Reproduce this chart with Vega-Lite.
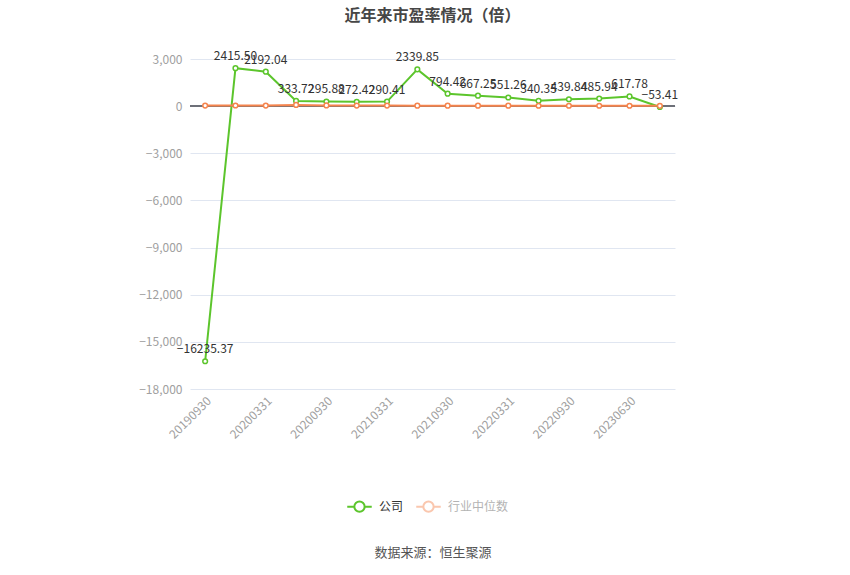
{
  "$schema": "https://vega.github.io/schema/vega-lite/v6.json",
  "width": 485,
  "height": 330,
  "autosize": {"type": "none"},
  "padding": {"left": 190, "top": 59, "right": 175, "bottom": 186},
  "background": "white",
  "title": {
    "text": "近年来市盈率情况（倍）",
    "fontSize": 16,
    "fontWeight": "bold",
    "color": "#464646",
    "font": "Noto Sans CJK SC",
    "anchor": "middle",
    "offset": 26
  },
  "config": {
    "font": "Noto Sans CJK SC",
    "view": {"stroke": null}
  },
  "data": {
    "values": [
      {"date": "20190930", "series": "公司", "pe": -16235.37},
      {"date": "20191231", "series": "公司", "pe": 2415.50},
      {"date": "20200331", "series": "公司", "pe": 2192.04},
      {"date": "20200630", "series": "公司", "pe": 333.72},
      {"date": "20200930", "series": "公司", "pe": 295.88},
      {"date": "20201231", "series": "公司", "pe": 272.42},
      {"date": "20210331", "series": "公司", "pe": 290.41},
      {"date": "20210630", "series": "公司", "pe": 2339.85},
      {"date": "20210930", "series": "公司", "pe": 794.42},
      {"date": "20211231", "series": "公司", "pe": 667.25},
      {"date": "20220331", "series": "公司", "pe": 551.26},
      {"date": "20220630", "series": "公司", "pe": 340.35},
      {"date": "20220930", "series": "公司", "pe": 439.84},
      {"date": "20221231", "series": "公司", "pe": 485.94},
      {"date": "20230630", "series": "公司", "pe": 617.78},
      {"date": "20230930", "series": "公司", "pe": -53.41},
      {"date": "20190930", "series": "行业中位数", "pe": 35},
      {"date": "20191231", "series": "行业中位数", "pe": 40},
      {"date": "20200331", "series": "行业中位数", "pe": 38},
      {"date": "20200630", "series": "行业中位数", "pe": 75},
      {"date": "20200930", "series": "行业中位数", "pe": 45},
      {"date": "20201231", "series": "行业中位数", "pe": 38},
      {"date": "20210331", "series": "行业中位数", "pe": 35},
      {"date": "20210630", "series": "行业中位数", "pe": 32},
      {"date": "20210930", "series": "行业中位数", "pe": 30},
      {"date": "20211231", "series": "行业中位数", "pe": 32},
      {"date": "20220331", "series": "行业中位数", "pe": 28},
      {"date": "20220630", "series": "行业中位数", "pe": 26},
      {"date": "20220930", "series": "行业中位数", "pe": 25},
      {"date": "20221231", "series": "行业中位数", "pe": 24},
      {"date": "20230630", "series": "行业中位数", "pe": 26},
      {"date": "20230930", "series": "行业中位数", "pe": 22}
    ]
  },
  "encoding": {
    "x": {
      "field": "date",
      "type": "ordinal",
      "sort": null,
      "scale": {"type": "point", "padding": 0.5},
      "axis": {
        "title": "数据来源：恒生聚源",
        "titleFontSize": 13,
        "titleFontWeight": "normal",
        "titleColor": "#555",
        "titlePadding": 106,
        "values": ["20190930", "20200331", "20200930", "20210331", "20210930", "20220331", "20220930", "20230630"],
        "labelAngle": -45,
        "labelAlign": "right",
        "labelBaseline": "top",
        "labelColor": "#a0a0a0",
        "labelFontSize": 12,
        "labelPadding": 6,
        "domain": false,
        "ticks": false,
        "grid": false
      }
    },
    "y": {
      "field": "pe",
      "type": "quantitative",
      "scale": {"domain": [-18000, 3000], "nice": false},
      "axis": {
        "title": null,
        "values": [-18000, -15000, -12000, -9000, -6000, -3000, 0, 3000],
        "format": ",.0f",
        "labelColor": "#a0a0a0",
        "labelFontSize": 12,
        "labelPadding": 8,
        "domain": false,
        "ticks": false,
        "gridColor": "#e0e6f1",
        "gridWidth": 1
      }
    }
  },
  "layer": [
    {
      "mark": {"type": "rule", "color": "#6e7079", "strokeWidth": 1},
      "encoding": {
        "y": {"datum": 0},
        "x": null
      }
    },
    {
      "mark": {"type": "line", "strokeWidth": 2},
      "encoding": {
        "color": {
          "field": "series",
          "type": "nominal",
          "scale": {"domain": ["公司", "行业中位数"], "range": ["#5cc52c", "#f5844d"]},
          "legend": {
            "title": null,
            "orient": "none",
            "legendX": 156,
            "legendY": 434,
            "direction": "horizontal",
            "symbolType": "M-1,0L-0.42,0M0.42,0L1,0M0.42,0A0.42,0.42,0,1,1,-0.42,0A0.42,0.42,0,1,1,0.42,0",
            "symbolSize": 600,
            "symbolStrokeWidth": 2,
            "symbolFillColor": "white",
            "labelFontSize": 12,
            "labelColor": "#333",
            "columnPadding": 8,
            "labelOffset": 6,
            "encode": {
              "labels": {"update": {"fill": {"signal": "datum.value === '行业中位数' ? '#b3b3b3' : '#333333'"}}},
              "symbols": {"update": {"opacity": {"signal": "datum.value === '行业中位数' ? 0.45 : 1"}, "fill": {"value": "white"}}}
            }
          }
        },
        "order": {"field": "series"}
      }
    },
    {
      "mark": {"type": "point", "filled": true, "fill": "white", "size": 22, "strokeWidth": 1.5, "opacity": 1},
      "encoding": {
        "stroke": {"field": "series", "type": "nominal", "scale": {"domain": ["公司", "行业中位数"], "range": ["#5cc52c", "#f5844d"]}, "legend": null}
      }
    },
    {
      "transform": [{"filter": "datum.series === '公司'"}],
      "mark": {"type": "text", "baseline": "bottom", "dy": -5, "fontSize": 12, "color": "#333"},
      "encoding": {
        "text": {"field": "pe", "type": "quantitative", "format": ".2f"}
      }
    }
  ]
}
